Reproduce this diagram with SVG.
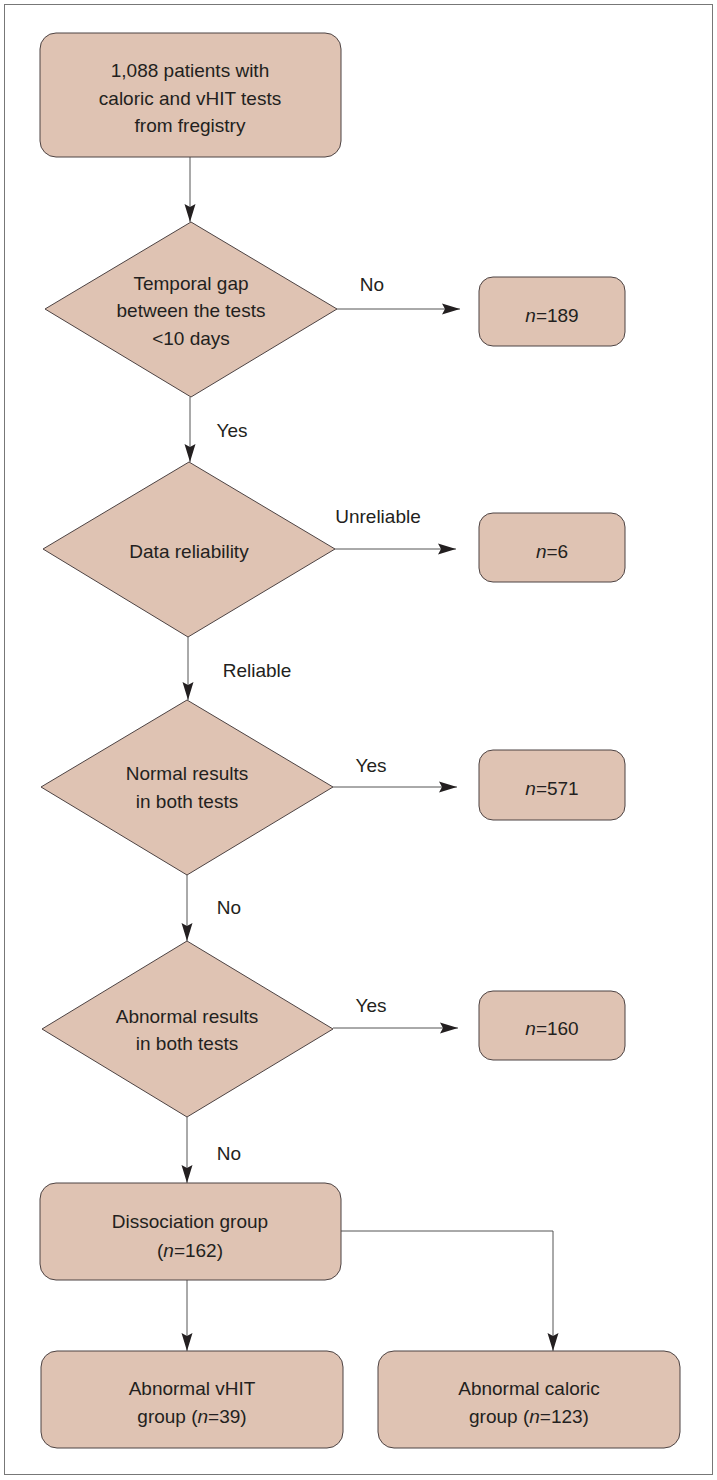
<svg xmlns="http://www.w3.org/2000/svg" width="717" height="1480" viewBox="0 0 717 1480">
<style>
.node{fill:#dfc3b3;stroke:#4d4343;stroke-width:1}
.t{font-family:"Liberation Sans",Arial,sans-serif;font-size:19px;fill:#231f20;text-anchor:middle}
.lbl{font-family:"Liberation Sans",Arial,sans-serif;font-size:19px;fill:#231f20;text-anchor:middle}
.c{fill:none;stroke:#555;stroke-width:1}
</style>
<defs>
<marker id="ah" viewBox="0 0 18 12" refX="18" refY="6" markerWidth="18" markerHeight="12" markerUnits="userSpaceOnUse" orient="auto">
<path d="M0,0.5 L18,6 L0,11.5 L3,6 z" fill="#231f20"/>
</marker>
</defs>
<rect x="4.5" y="4.5" width="708" height="1470" fill="#fff" stroke="#777" stroke-width="1"/>
<g id="connectors">
<path class="c" d="M190,157 V222" marker-end="url(#ah)"/>
<path class="c" d="M337,309 H460" marker-end="url(#ah)"/>
<path class="c" d="M190,397 V462" marker-end="url(#ah)"/>
<path class="c" d="M335,549 H456" marker-end="url(#ah)"/>
<path class="c" d="M188,637 V700" marker-end="url(#ah)"/>
<path class="c" d="M333,787 H457" marker-end="url(#ah)"/>
<path class="c" d="M187,875 V941" marker-end="url(#ah)"/>
<path class="c" d="M333,1028 H458" marker-end="url(#ah)"/>
<path class="c" d="M187,1117 V1183" marker-end="url(#ah)"/>
<path class="c" d="M187,1280 V1351" marker-end="url(#ah)"/>
<path class="c" d="M341,1231 H553 V1351" marker-end="url(#ah)"/>
</g>
<g id="labels">
<text class="lbl" x="372" y="291">No</text>
<text class="lbl" x="232" y="437">Yes</text>
<text class="lbl" x="378" y="523">Unreliable</text>
<text class="lbl" x="257" y="677">Reliable</text>
<text class="lbl" x="371" y="772">Yes</text>
<text class="lbl" x="229" y="914">No</text>
<text class="lbl" x="371" y="1012">Yes</text>
<text class="lbl" x="229" y="1160">No</text>
</g>
<g id="start">
<rect class="node" x="40" y="33" width="301" height="124" rx="16"/>
<text class="t" x="190" y="77">1,088 patients with</text>
<text class="t" x="190" y="105">caloric and vHIT tests</text>
<text class="t" x="190" y="132">from fregistry</text>
</g>
<g id="d1">
<polygon class="node" points="191,222 337,309 191,397 45,309"/>
<text class="t" x="191" y="290">Temporal gap</text>
<text class="t" x="191" y="317">between the tests</text>
<text class="t" x="191" y="345">&lt;10 days</text>
</g>
<g id="n189">
<rect class="node" x="479" y="277" width="146" height="69" rx="14"/>
<text class="t" x="552" y="322"><tspan font-style="italic">n</tspan>=189</text>
</g>
<g id="d2">
<polygon class="node" points="189,462 335,549 188,637 43,549"/>
<text class="t" x="189" y="558">Data reliability</text>
</g>
<g id="n6">
<rect class="node" x="479" y="513" width="146" height="69" rx="14"/>
<text class="t" x="552" y="558"><tspan font-style="italic">n</tspan>=6</text>
</g>
<g id="d3">
<polygon class="node" points="187,700 333,787 187,875 41,787"/>
<text class="t" x="187" y="780">Normal results</text>
<text class="t" x="187" y="808">in both tests</text>
</g>
<g id="n571">
<rect class="node" x="479" y="750" width="146" height="70" rx="14"/>
<text class="t" x="552" y="795"><tspan font-style="italic">n</tspan>=571</text>
</g>
<g id="d4">
<polygon class="node" points="187,941 333,1029 187,1117 42,1029"/>
<text class="t" x="187" y="1023">Abnormal results</text>
<text class="t" x="187" y="1050">in both tests</text>
</g>
<g id="n160">
<rect class="node" x="479" y="991" width="146" height="69" rx="14"/>
<text class="t" x="552" y="1035"><tspan font-style="italic">n</tspan>=160</text>
</g>
<g id="dissociation">
<rect class="node" x="40" y="1183" width="301" height="97" rx="16"/>
<text class="t" x="190" y="1228">Dissociation group</text>
<text class="t" x="190" y="1257">(<tspan font-style="italic">n</tspan>=162)</text>
</g>
<g id="vhit">
<rect class="node" x="41" y="1351" width="302" height="97" rx="16"/>
<text class="t" x="192" y="1395">Abnormal vHIT</text>
<text class="t" x="192" y="1423">group (<tspan font-style="italic">n</tspan>=39)</text>
</g>
<g id="caloric">
<rect class="node" x="378" y="1351" width="302" height="97" rx="16"/>
<text class="t" x="529" y="1395">Abnormal caloric</text>
<text class="t" x="529" y="1423">group (<tspan font-style="italic">n</tspan>=123)</text>
</g>
</svg>
